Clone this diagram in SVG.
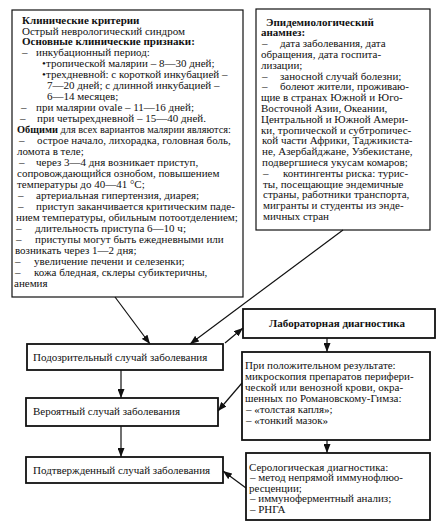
<svg xmlns="http://www.w3.org/2000/svg" width="438" height="526" viewBox="0 0 438 526">
<defs>
<style>
.bx{fill:#fff;stroke:#111;stroke-width:1.2}
.bx2{fill:#fff;stroke:#111;stroke-width:1.8}
text{font-family:"Liberation Serif","DejaVu Serif",serif;font-size:11px;fill:#111}
.b{font-weight:bold}
.c{stroke:#111;stroke-width:1.2;fill:none}
</style>
<marker id="ah" markerUnits="userSpaceOnUse" markerWidth="9" markerHeight="7" refX="9" refY="3.5" orient="auto">
<path d="M0,0 L9,3.5 L0,7 z" fill="#111"/>
</marker>
</defs>
<rect width="438" height="526" fill="#fff"/>

<g id="clinical">
<rect class="bx" x="12" y="10" width="231" height="287"/>
<text x="22" y="23.5" class="b">Клинические критерии</text>
<text x="22" y="34.5">Острый неврологический синдром</text>
<text x="22" y="45.4" class="b">Основные клинические признаки:</text>
<text y="56.4"><tspan x="22">–</tspan><tspan x="36">инкубационный период:</tspan></text>
<text y="67.3"><tspan x="42">•</tspan><tspan x="46">тропической малярии – 8—30 дней;</tspan></text>
<text y="78.3"><tspan x="42">•</tspan><tspan x="46">трехдневной: с короткой инкубацией –</tspan></text>
<text x="47" y="89.3">7—20 дней; с длинной инкубацией –</text>
<text x="47" y="100.2">6—14 месяцев;</text>
<text y="111.2"><tspan x="21">–</tspan><tspan x="36">при малярии ovale – 11—16 дней;</tspan></text>
<text y="122.1"><tspan x="20">–</tspan><tspan x="37">при четырехдневной – 15—40 дней.</tspan></text>
<text x="17" y="133.1" textLength="214" lengthAdjust="spacingAndGlyphs"><tspan class="b">Общими</tspan> для всех вариантов малярии являются:</text>
<text y="144.1"><tspan x="19">–</tspan><tspan x="37">острое начало, лихорадка, головная боль,</tspan></text>
<text x="17" y="155">ломота в теле;</text>
<text y="166"><tspan x="19">–</tspan><tspan x="36">через 3—4 дня возникает приступ,</tspan></text>
<text x="17" y="176.9">сопровождающийся ознобом, повышением</text>
<text x="17" y="187.9">температуры до 40—41 °С;</text>
<text y="198.9"><tspan x="18">–</tspan><tspan x="36">артериальная гипертензия, диарея;</tspan></text>
<text y="209.8"><tspan x="18">–</tspan><tspan x="36">приступ заканчивается критическим паде-</tspan></text>
<text x="16" y="220.8">нием температуры, обильным потоотделением;</text>
<text y="231.7"><tspan x="16">–</tspan><tspan x="35">длительность приступа 6—10 ч;</tspan></text>
<text y="242.7"><tspan x="16">–</tspan><tspan x="35">приступы могут быть ежедневными или</tspan></text>
<text x="15" y="253.7">возникать через 1—2 дня;</text>
<text y="264.6"><tspan x="15">–</tspan><tspan x="34">увеличение печени и селезенки;</tspan></text>
<text y="275.6"><tspan x="15">–</tspan><tspan x="34">кожа бледная, склеры субиктеричны,</tspan></text>
<text x="14" y="286.5">анемия</text>
</g>

<g id="epidemiology">
<rect class="bx" x="256" y="9" width="174" height="221"/>
<text x="266" y="25.5" class="b">Эпидемиологический</text>
<text x="261" y="36.3" class="b">анамнез:</text>
<text y="47.1"><tspan x="262">–</tspan><tspan x="280">дата заболевания, дата</tspan></text>
<text x="261" y="57.9">обращения, дата госпита-</text>
<text x="261" y="68.7">лизации;</text>
<text y="79.5"><tspan x="262">–</tspan><tspan x="280">заносной случай болезни;</tspan></text>
<text y="90.3"><tspan x="262">–</tspan><tspan x="280">болеют жители, проживаю-</tspan></text>
<text x="261" y="101.1">щие в странах Южной и Юго-</text>
<text x="261" y="111.9">Восточной Азии, Океании,</text>
<text x="261" y="122.7">Центральной и Южной Амери-</text>
<text x="261" y="133.5">ки, тропической и субтропичес-</text>
<text x="262" y="144.3">кой части Африки, Таджикиста-</text>
<text x="262" y="155.1">не, Азербайджане, Узбекистане,</text>
<text x="262" y="165.9">подвергшиеся укусам комаров;</text>
<text y="176.7"><tspan x="263">–</tspan><tspan x="283">контингенты риска: турис-</tspan></text>
<text x="263" y="187.5">ты, посещающие эндемичные</text>
<text x="263" y="198.3">страны, работники транспорта,</text>
<text x="263" y="209.1">мигранты и студенты из энде-</text>
<text x="263" y="219.9">мичных стран</text>
</g>

<g id="suspect">
<rect class="bx2" x="27" y="344" width="196" height="26"/>
<text x="33" y="361">Подозрительный случай заболевания</text>
</g>

<g id="probable">
<rect class="bx2" x="26" y="398" width="192" height="28"/>
<text x="33" y="415">Вероятный случай заболевания</text>
</g>

<g id="confirmed">
<rect class="bx2" x="26" y="457" width="197" height="26"/>
<text x="33" y="474">Подтвержденный случай заболевания</text>
</g>

<g id="lab">
<rect class="bx2" x="243" y="309" width="192" height="29"/>
<text x="337" y="327" class="b" text-anchor="middle">Лабораторная диагностика</text>
</g>

<g id="microscopy">
<rect class="bx2" x="242" y="352" width="188" height="88"/>
<text x="245" y="369">При положительном результате:</text>
<text x="245" y="380">микроскопия препаратов перифери-</text>
<text x="245" y="391">ческой или венозной крови, окра-</text>
<text x="245" y="402">шенных по Романовскому-Гимза:</text>
<text x="246" y="413">– «толстая капля»;</text>
<text x="246" y="424">– «тонкий мазок»</text>
</g>

<g id="serology">
<rect class="bx2" x="246" y="453" width="184" height="67"/>
<text x="249" y="470.5">Серологическая диагностика:</text>
<text x="250" y="481">– метод непрямой иммунофлюо-</text>
<text x="249" y="491.5">ресценции;</text>
<text x="250" y="502">– иммуноферментный анализ;</text>
<text x="250" y="512.5">– РНГА</text>
</g>

<g id="connectors">
<line class="c" x1="115" y1="297" x2="150" y2="344" marker-end="url(#ah)"/>
<line class="c" x1="343" y1="230" x2="190" y2="344" marker-end="url(#ah)"/>
<line class="c" x1="225" y1="343" x2="243" y2="328" marker-end="url(#ah)"/>
<line class="c" x1="327" y1="338" x2="327" y2="352" marker-end="url(#ah)"/>
<line class="c" x1="242" y1="383" x2="218" y2="411" marker-end="url(#ah)"/>
<line class="c" x1="327" y1="440" x2="327" y2="453" marker-end="url(#ah)"/>
<line class="c" x1="246" y1="488" x2="223" y2="471" marker-end="url(#ah)"/>
<line class="c" x1="121" y1="370" x2="121" y2="398" marker-end="url(#ah)"/>
<line class="c" x1="121" y1="426" x2="121" y2="457" marker-end="url(#ah)"/>
</g>
</svg>
